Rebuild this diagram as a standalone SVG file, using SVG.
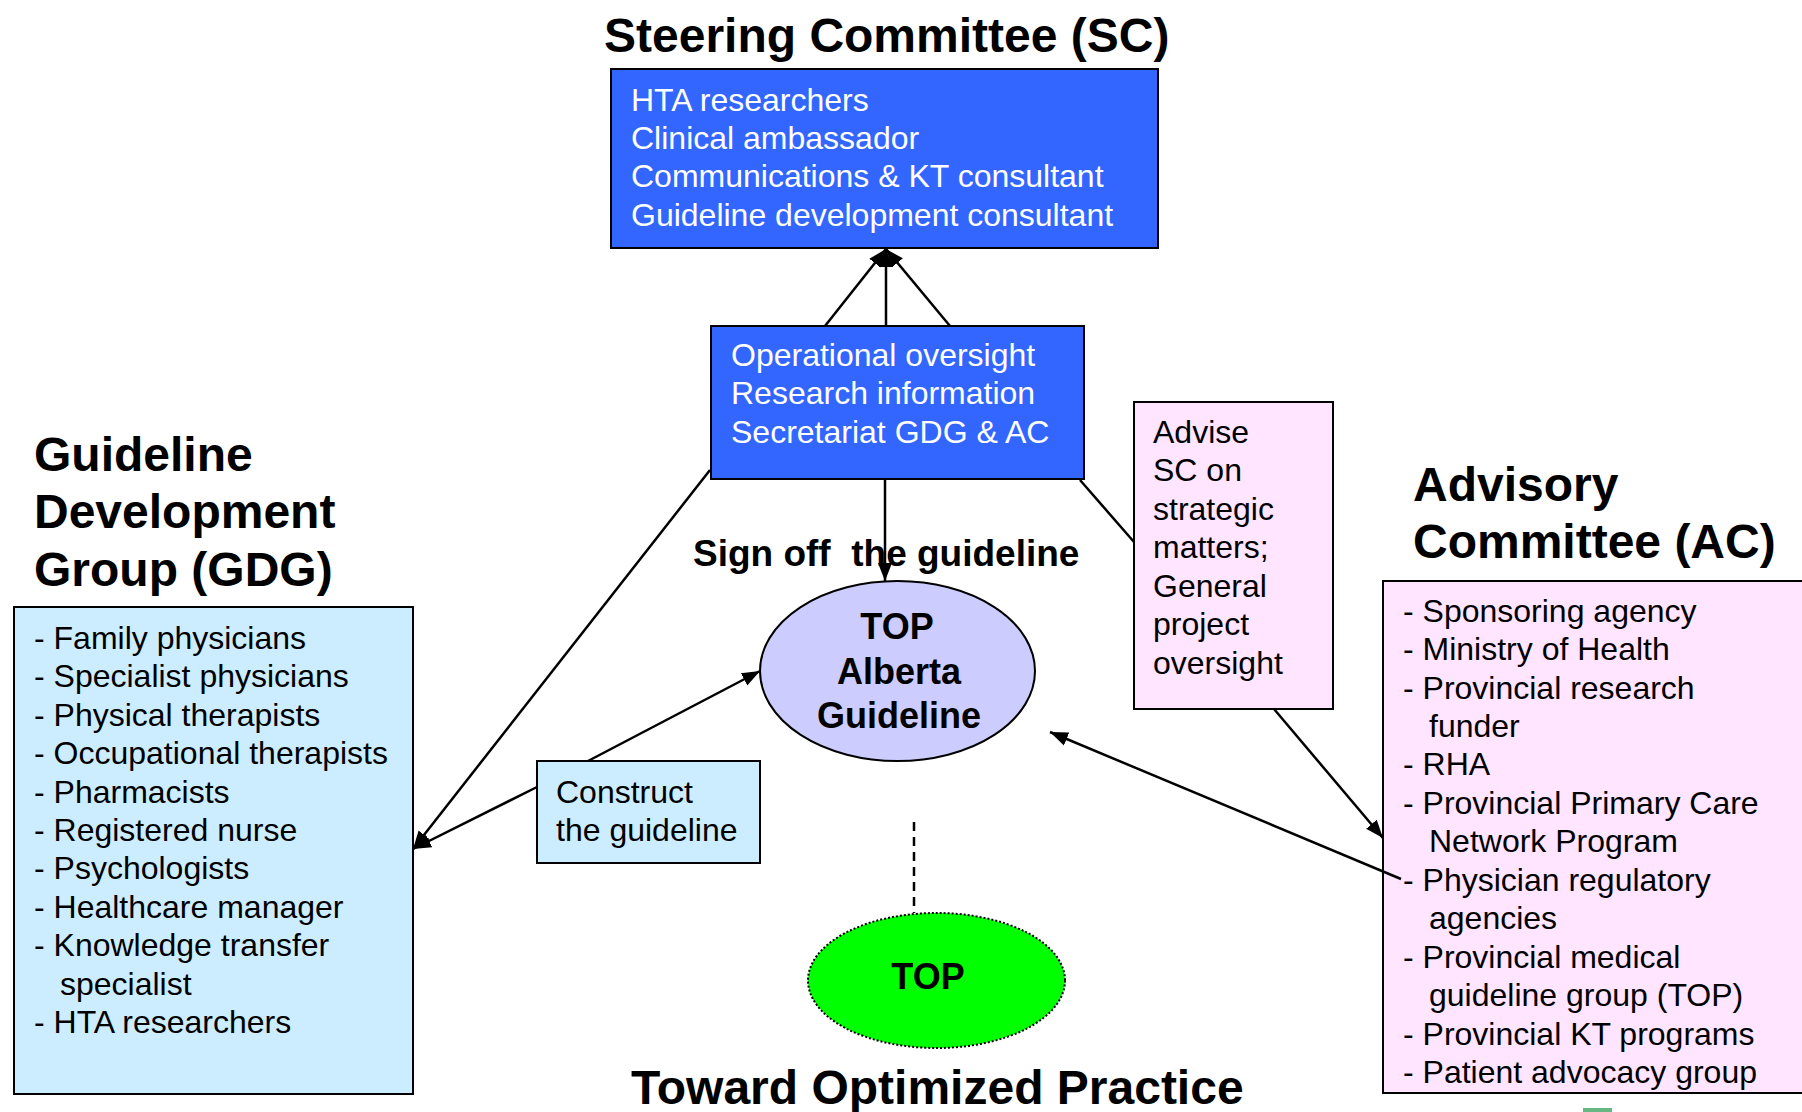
<svg xmlns="http://www.w3.org/2000/svg" width="1802" height="1112" viewBox="0 0 1802 1112">
<defs>
<marker id="arr" markerUnits="userSpaceOnUse" markerWidth="20" markerHeight="16" viewBox="0 0 20 16" refX="18" refY="8" orient="auto">
<path d="M0,1 L18,8 L0,15 Z" fill="#000"/>
</marker>
<style>
.t{font-family:"Liberation Sans",Arial,sans-serif;font-size:32px;fill:#000}
.w{fill:#fff}
.b{font-family:"Liberation Sans",Arial,sans-serif;font-weight:bold;fill:#000}
.h{font-size:48px}
.m{font-size:36px}
.box{stroke:#000;stroke-width:2}
.c{stroke:#000;stroke-width:2.5;fill:none}
</style>
</defs>
<rect width="1802" height="1112" fill="#fff"/>

<text class="b h" x="604" y="52">Steering Committee (SC)</text>

<g id="sc">
<rect class="box" x="611" y="69" width="547" height="179" fill="#3366FF"/>
<text class="t w" x="631" y="111">HTA researchers</text>
<text class="t w" x="631" y="149">Clinical ambassador</text>
<text class="t w" x="631" y="187">Communications &amp; KT consultant</text>
<text class="t w" x="631" y="226">Guideline development consultant</text>
</g>

<g id="ops">
<rect class="box" x="711" y="326" width="373" height="153" fill="#3366FF"/>
<text class="t w" x="731" y="366">Operational oversight</text>
<text class="t w" x="731" y="404">Research information</text>
<text class="t w" x="731" y="443">Secretariat GDG &amp; AC</text>
</g>

<text class="b" x="693" y="566" font-size="37" xml:space="preserve">Sign off  the guideline</text>

<g id="guideline">
<ellipse class="box" cx="897.5" cy="671" rx="137.5" ry="90" fill="#CCCCFF"/>
<text class="b m" x="897" y="639" text-anchor="middle">TOP</text>
<text class="b m" x="899" y="684" text-anchor="middle">Alberta</text>
<text class="b m" x="899" y="728" text-anchor="middle">Guideline</text>
</g>

<g id="gdg">
<text class="b h" x="34" y="471">Guideline</text>
<text class="b h" x="34" y="528">Development</text>
<text class="b h" x="34" y="586">Group (GDG)</text>
<rect class="box" x="14" y="607" width="399" height="487" fill="#CCECFF"/>
<text class="t" x="34" y="649">- Family physicians</text>
<text class="t" x="34" y="687">- Specialist physicians</text>
<text class="t" x="34" y="726">- Physical therapists</text>
<text class="t" x="34" y="764">- Occupational therapists</text>
<text class="t" x="34" y="803">- Pharmacists</text>
<text class="t" x="34" y="841">- Registered nurse</text>
<text class="t" x="34" y="879">- Psychologists</text>
<text class="t" x="34" y="918">- Healthcare manager</text>
<text class="t" x="34" y="956">- Knowledge transfer</text>
<text class="t" x="60" y="995">specialist</text>
<text class="t" x="34" y="1033">- HTA researchers</text>
</g>

<g id="construct">
<rect class="box" x="537" y="761" width="223" height="102" fill="#CCECFF"/>
<text class="t" x="556" y="803">Construct</text>
<text class="t" x="556" y="841">the guideline</text>
</g>

<g id="advise">
<rect class="box" x="1134" y="402" width="199" height="307" fill="#FFE5FF"/>
<text class="t" x="1153" y="443">Advise</text>
<text class="t" x="1153" y="481">SC on</text>
<text class="t" x="1153" y="520">strategic</text>
<text class="t" x="1153" y="558">matters;</text>
<text class="t" x="1153" y="597">General</text>
<text class="t" x="1153" y="635">project</text>
<text class="t" x="1153" y="674">oversight</text>
</g>

<g id="ac">
<text class="b h" x="1413" y="501">Advisory</text>
<text class="b h" x="1413" y="558">Committee (AC)</text>
<rect class="box" x="1383" y="581" width="430" height="512" fill="#FFE5FF"/>
<text class="t" x="1403" y="622">- Sponsoring agency</text>
<text class="t" x="1403" y="660">- Ministry of Health</text>
<text class="t" x="1403" y="699">- Provincial research</text>
<text class="t" x="1429" y="737">funder</text>
<text class="t" x="1403" y="775">- RHA</text>
<text class="t" x="1403" y="814">- Provincial Primary Care</text>
<text class="t" x="1429" y="852">Network Program</text>
<text class="t" x="1403" y="891">- Physician regulatory</text>
<text class="t" x="1429" y="929">agencies</text>
<text class="t" x="1403" y="968">- Provincial medical</text>
<text class="t" x="1429" y="1006">guideline group (TOP)</text>
<text class="t" x="1403" y="1045">- Provincial KT programs</text>
<text class="t" x="1403" y="1083">- Patient advocacy group</text>
</g>

<g id="top">
<ellipse cx="936.5" cy="980.5" rx="128.5" ry="67.5" fill="#00FF00" stroke="#000" stroke-width="2" stroke-dasharray="2,2"/>
<text class="b m" x="928" y="989" text-anchor="middle">TOP</text>
</g>

<g id="connectors">
<line class="c" x1="825" y1="326" x2="886" y2="249" marker-end="url(#arr)"/>
<line class="c" x1="886" y1="326" x2="886" y2="249" marker-end="url(#arr)"/>
<line class="c" x1="950" y1="326" x2="886" y2="249" marker-end="url(#arr)"/>
<line class="c" x1="885" y1="479" x2="885" y2="581" marker-end="url(#arr)"/>
<line class="c" x1="710" y1="470" x2="413" y2="849" marker-end="url(#arr)"/>
<line class="c" x1="537" y1="787" x2="413" y2="849" marker-end="url(#arr)"/>
<line class="c" x1="588" y1="761" x2="760" y2="671" marker-end="url(#arr)"/>
<line class="c" x1="1080" y1="480" x2="1134" y2="542"/>
<line class="c" x1="1274" y1="709" x2="1383" y2="838" marker-end="url(#arr)"/>
<line class="c" x1="1401" y1="879" x2="1050" y2="732" marker-end="url(#arr)"/>
<line class="c" x1="914" y1="822" x2="914" y2="913" stroke-dasharray="9,6"/>
</g>

<text class="b h" x="631" y="1104">Toward Optimized Practice</text>
<rect x="1583" y="1108" width="29" height="4" fill="#66B880"/>
</svg>
